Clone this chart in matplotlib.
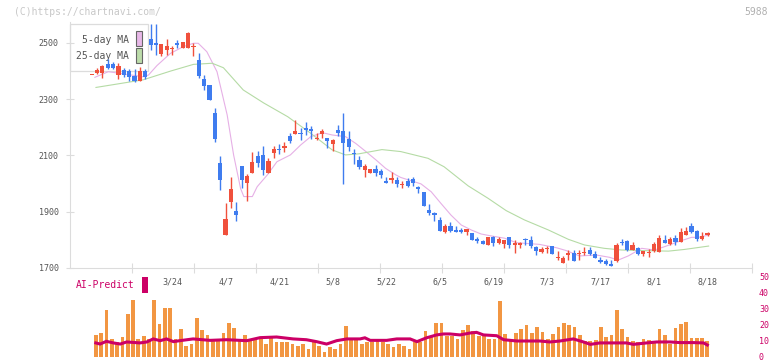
import numpy as np
import matplotlib
matplotlib.use("Agg")
import matplotlib.pyplot as plt
from matplotlib.patches import Rectangle

plt.rcParams['font.family'] = ['DejaVu Sans Mono']

# daily candles (open, high, low, close)
opens = [2385, 2394, 2394, 2425, 2427, 2386, 2404, 2400, 2383, 2365, 2401, 2513, 2499, 2460, 2476, 2478,
         2499, 2483, 2483, 2484, 2440, 2371, 2351, 2250, 2072, 1817, 1936, 1903, 2062, 2003, 2039, 2098,
         2102, 2037, 2108, 2123, 2126, 2170, 2176, 2180, 2198, 2194, 2158, 2176, 2162, 2142, 2191, 2187,
         2159, 2110, 2084, 2048, 2039, 2052, 2046, 2009, 2013, 2013, 1995, 2009, 2016, 1989, 1970, 1906,
         1894, 1871, 1829, 1849, 1835, 1833, 1829, 1826, 1804, 1796, 1783, 1810, 1788, 1785, 1809, 1781,
         1782, 1803, 1800, 1773, 1758, 1766, 1778, 1734, 1719, 1745, 1754, 1750, 1752, 1764, 1749, 1728,
         1725, 1715, 1725, 1794, 1796, 1764, 1772, 1751, 1752, 1760, 1758, 1800, 1784, 1808, 1792, 1817,
         1850, 1832, 1803, 1817]
highs = [2385, 2410, 2420, 2442, 2434, 2428, 2410, 2407, 2406, 2413, 2406, 2567, 2566, 2497, 2513, 2488,
         2510, 2502, 2540, 2499, 2463, 2386, 2352, 2268, 2098, 1930, 2025, 1934, 2062, 2033, 2114, 2117,
         2135, 2090, 2134, 2141, 2149, 2179, 2226, 2197, 2219, 2205, 2181, 2195, 2162, 2159, 2208, 2251,
         2187, 2122, 2099, 2070, 2052, 2065, 2053, 2022, 2040, 2022, 2010, 2019, 2025, 1991, 1970, 1929,
         1900, 1880, 1855, 1864, 1849, 1843, 1839, 1826, 1811, 1800, 1810, 1814, 1810, 1800, 1809, 1800,
         1794, 1808, 1814, 1778, 1773, 1778, 1778, 1760, 1743, 1764, 1764, 1764, 1773, 1773, 1760, 1738,
         1731, 1727, 1790, 1802, 1800, 1791, 1775, 1760, 1766, 1791, 1817, 1817, 1810, 1817, 1843, 1847,
         1859, 1835, 1828, 1828]
lows = [2385, 2391, 2374, 2406, 2406, 2372, 2378, 2366, 2360, 2365, 2373, 2476, 2458, 2453, 2458, 2456,
        2482, 2483, 2483, 2452, 2374, 2333, 2296, 2149, 1977, 1817, 1914, 1868, 1983, 1939, 2039, 2060,
        2031, 2037, 2090, 2104, 2114, 2143, 2176, 2155, 2173, 2159, 2155, 2163, 2128, 2116, 2169, 2000,
        2117, 2069, 2053, 2025, 2039, 2027, 2019, 2003, 2003, 1989, 1984, 1989, 1993, 1968, 1922, 1890,
        1867, 1833, 1826, 1829, 1829, 1826, 1818, 1800, 1790, 1786, 1783, 1779, 1786, 1772, 1772, 1754,
        1770, 1782, 1770, 1746, 1752, 1752, 1751, 1728, 1719, 1728, 1726, 1728, 1745, 1745, 1734, 1719,
        1710, 1706, 1721, 1782, 1762, 1764, 1746, 1744, 1740, 1758, 1758, 1788, 1782, 1782, 1792, 1817,
        1823, 1796, 1800, 1814]
closes = [2385, 2404, 2419, 2410, 2411, 2418, 2386, 2380, 2365, 2401, 2380, 2493, 2494, 2496, 2488, 2480,
          2493, 2502, 2537, 2490, 2384, 2348, 2297, 2159, 2013, 1874, 1981, 1888, 2013, 2027, 2078, 2072,
          2048, 2080, 2123, 2119, 2134, 2152, 2187, 2175, 2192, 2188, 2163, 2187, 2152, 2155, 2180, 2146,
          2129, 2104, 2060, 2063, 2052, 2039, 2031, 2003, 2020, 2000, 1999, 1992, 2001, 1982, 1922, 1897,
          1888, 1833, 1849, 1832, 1829, 1829, 1839, 1800, 1797, 1786, 1810, 1790, 1802, 1800, 1781, 1788,
          1788, 1798, 1778, 1760, 1768, 1772, 1751, 1740, 1737, 1754, 1726, 1754, 1758, 1750, 1737, 1723,
          1713, 1708, 1782, 1789, 1764, 1782, 1751, 1760, 1758, 1785, 1808, 1790, 1803, 1792, 1828, 1832,
          1828, 1804, 1812, 1824]

# moving averages (bar index, price)
ma5_x = [0.6, 3.1, 9.6, 10.6, 12.2, 14.7, 17.1, 19.0, 19.9, 21.5, 23.4, 25.3, 26.5, 27.8, 28.4, 30.0,
         30.9, 32.8, 34.6, 37.1, 39.0, 40.9, 43.1, 44.9, 47.4, 49.3, 51.2, 53.1, 54.9, 56.8, 57.7, 61.5,
         63.4, 65.2, 67.1, 69.0, 70.9, 72.7, 74.6, 77.1, 79.3, 83.6, 86.8, 88.6, 91.1, 94.3, 96.7, 98.3,
         100.2, 102.7, 105.1, 107.0, 109.6, 112.0, 113.3, 115.2]
ma5_y = [2378, 2398, 2380, 2386, 2420, 2463, 2487, 2499, 2499, 2469, 2398, 2244, 2102, 1983, 1954, 1954,
         1989, 2031, 2078, 2102, 2137, 2167, 2181, 2173, 2167, 2143, 2114, 2084, 2054, 2031, 2022, 1999,
         1971, 1930, 1888, 1853, 1835, 1821, 1814, 1806, 1790, 1784, 1772, 1762, 1743, 1746, 1738, 1728,
         1743, 1770, 1764, 1776, 1794, 1809, 1809, 1817]
ma25_x = [0.8, 9.6, 14.7, 19.0, 22.5, 24.6, 28.3, 32.1, 36.6, 40.9, 44.9, 47.4, 49.9, 54.2, 57.7, 62.8,
          65.8, 70.3, 74.0, 77.4, 80.8, 85.3, 89.0, 92.0, 95.7, 98.9, 102.7, 107.7, 110.7, 115.2]
ma25_y = [2342, 2369, 2400, 2424, 2428, 2412, 2333, 2287, 2238, 2179, 2120, 2102, 2106, 2121, 2114, 2090,
          2060, 1992, 1948, 1904, 1871, 1835, 1802, 1782, 1770, 1764, 1762, 1760, 1766, 1778]

volume = [13.8, 15, 29.4, 11.3, 9.2, 12.5, 26.9, 35.6, 11.3, 13.1, 11.3, 35.6, 20.6, 30.6, 30.6, 11.3,
          17.5, 6.9, 8.1, 24.4, 16.9, 13.8, 11.3, 11.3, 15, 21.3, 18.1, 11.3, 13.8, 11.3, 11.9, 11.9,
          8.1, 13.1, 9.4, 9.4, 9.4, 8.1, 6.9, 8.1, 5, 9.4, 6.9, 3.1, 6.3, 5, 8.1, 19.4, 11.3,
          11.3, 8.1, 9.4, 9.4, 11.3, 9.4, 8.1, 6.3, 8.1, 6.9, 5, 9.4, 9.4, 16.3, 12.5, 21.3,
          21.3, 12.9, 12.9, 11.3, 17.1, 20.2, 16.3, 12.9, 13.8, 11.3, 11.3, 35.2, 14.4, 10.2, 15, 17.5,
          20, 15, 18.8, 15.6, 11.3, 14.4, 18.8, 21.3, 20, 18.8, 13.8, 10, 10, 10.6, 18.8, 12.5,
          13.8, 29.4, 17.5, 12.5, 10, 9.4, 11.3, 10.6, 9.4, 17.5, 13.8, 8.1, 18.1, 20.6, 21.9, 11.9,
          11.9, 11.9, 10]
ai_x = [0, 0.8, 2, 3.3, 4.6, 5.8, 8.3, 9.6, 10.8, 12.1, 13.3, 14.6, 15.8, 18.3, 21.5, 24.6, 28.4, 30.9,
        34, 37.1, 39.6, 41.5, 43.4, 45.3, 47.2, 49.7, 50.6, 51.6, 54.7, 56.6, 59.1, 60.4, 62.2, 64.1,
        65.4, 66.6, 68.5, 70.4, 71.6, 72.9, 75.4, 76.7, 79.2, 83.5, 85.4, 87.3, 89.8, 91.7, 93, 94.8,
        97.3, 99.8, 101.1, 103.6, 105.5, 108, 109.9, 112.4, 114.3, 115]
ai_y = [8.8, 8.1, 9.8, 8.8, 8.1, 9.4, 8.8, 9.4, 11.3, 10.2, 11.3, 9.6, 10.2, 11.3, 10.4, 10.8, 10.2, 12.1,
        12.5, 11.3, 10.8, 9.6, 8.1, 10.2, 11.3, 11.3, 12, 10.4, 10.4, 11.3, 11.3, 9.6, 12, 13.8,
        14.4, 14.4, 13.8, 15, 15.4, 13.8, 13.3, 10.8, 10, 10, 9.4, 10, 11.3, 9.4, 7.9, 8.8,
        8.8, 8.8, 7.9, 8.8, 9.4, 9.4, 9, 9, 8.8, 7.5]

date_pos = [15, 25, 35, 45, 55, 65, 75, 85, 95, 105, 115]
date_labels = ['3/24', '4/7', '4/21', '5/8', '5/22', '6/5', '6/19', '7/3', '7/17', '8/1', '8/18']
price_ticks = [1700, 1900, 2100, 2300, 2500]
vol_ticks = [0, 10, 20, 30, 40, 50]

W, H = 772, 361
fig = plt.figure(figsize=(W / 100, H / 100), dpi=100)

up_c, dn_c = '#f0503c', '#3f7cef'
grid_c = '#dcdcdc'
txt_c = '#555555'

# volume panel (drawn first, transparent background)
vx = fig.add_axes([70 / W, 1 - 357 / H, 682 / W, 80 / H])
vx.patch.set_visible(False)
vx.set_xlim(-4.85, 123.4)
vx.set_ylim(0, 50)
vx.bar(np.arange(len(volume)), volume, width=0.7, color='#f29642', lw=0)
vx.plot(ai_x, ai_y, color='#cc0066', lw=2.2, solid_joinstyle='miter')
for s in vx.spines.values():
    s.set_visible(False)
vx.set_xticks([])
vx.yaxis.tick_right()
vx.set_yticks(vol_ticks)
vx.tick_params(axis='y', length=0, labelsize=6, labelcolor='#cc0066', pad=5)

ax = fig.add_axes([70 / W, 1 - 268 / H, 682 / W, 246 / H])
ax.patch.set_visible(False)
ax.set_xlim(-4.05, 123.3)
ax.set_ylim(1700, 1700 + 246 * 800 / 225)

# legend box under the candles
ax.add_patch(Rectangle((70 / W, 1 - 71 / H), 78 / W, 47 / H, transform=fig.transFigure,
                       facecolor='white', edgecolor=grid_c, lw=0.9, zorder=1, clip_on=False))
ax.add_patch(Rectangle((136 / W, 1 - 46 / H), 6 / W, 15 / H, transform=fig.transFigure,
                       facecolor='#e8b8e8', edgecolor='#666666', lw=0.8, zorder=1.5, clip_on=False))
ax.add_patch(Rectangle((136 / W, 1 - 63 / H), 6 / W, 15 / H, transform=fig.transFigure,
                       facecolor='#bcdcaa', edgecolor='#666666', lw=0.8, zorder=1.5, clip_on=False))
ax.text(129 / W, 1 - 40 / H, '5-day MA', transform=fig.transFigure, ha='right', va='center',
        fontsize=7, color=txt_c, zorder=1.5)
ax.text(129 / W, 1 - 56 / H, '25-day MA', transform=fig.transFigure, ha='right', va='center',
        fontsize=7, color=txt_c, zorder=1.5)

x = np.arange(len(closes))
o = np.array(opens); c = np.array(closes)
colors = [up_c if cc >= oo else dn_c for oo, cc in zip(o, c)]
bot = np.minimum(o, c)
hgt = np.maximum(np.abs(c - o), 5)
ax.vlines(x, lows, highs, colors=colors, lw=1.0, zorder=3)
ax.bar(x, hgt, bottom=bot, width=0.78, color=colors, lw=0, zorder=4)

ax.plot(ma5_x, ma5_y, color='#e6b0e6', lw=0.8, zorder=2)
ax.plot(ma25_x, ma25_y, color='#b5dba5', lw=0.8, zorder=2)

for s in ['top', 'right']:
    ax.spines[s].set_visible(False)
for s in ['left', 'bottom']:
    ax.spines[s].set_color(grid_c)
ax.set_yticks(price_ticks)
ax.set_yticklabels([str(v) for v in price_ticks])
ax.tick_params(axis='y', direction='inout', length=6, width=0.8, color=grid_c,
               labelsize=6, labelcolor=txt_c, pad=5)
ax.set_xticks(np.linspace(ax.get_xlim()[0], ax.get_xlim()[1], 12)[1:])
ax.set_xticklabels([])
ax.tick_params(axis='x', direction='inout', length=7, width=0.8, color=grid_c)
for p, lab in zip(date_pos, date_labels):
    ax.text(p, -0.057, lab, transform=ax.get_xaxis_transform(), ha='center', va='center',
            fontsize=6, color=txt_c, clip_on=False)

fig.text(76 / W, 1 - 285 / H, 'AI-Predict', ha='left', va='center', fontsize=7, color='#cc0066')
fig.patches.append(Rectangle((142 / W, 1 - 293 / H), 6 / W, 16 / H, transform=fig.transFigure,
                             facecolor='#cc0066', edgecolor='none'))

fig.text(14 / W, 1 - 12 / H, '(C)https://chartnavi.com/', ha='left', va='center', fontsize=7,
         color='#c8c8c8')
fig.text(768 / W, 1 - 12 / H, '5988', ha='right', va='center', fontsize=7, color='#b0b0b0')

fig.savefig('out.png', dpi=100)
